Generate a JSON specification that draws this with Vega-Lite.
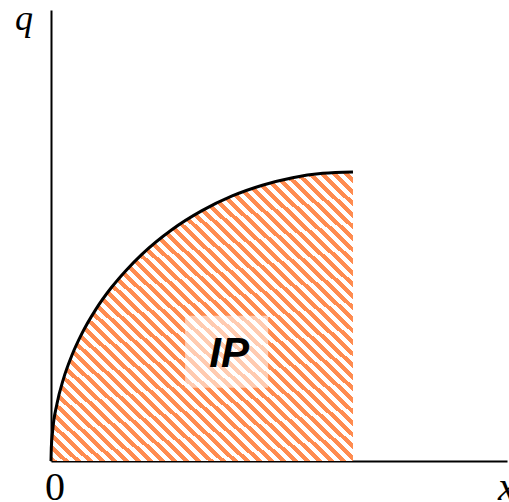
{
  "$schema": "https://vega.github.io/schema/vega-lite/v6.json",
  "width": 456,
  "height": 451,
  "autosize": "none",
  "padding": {"left": 51, "top": 10, "right": 2, "bottom": 41},
  "background": "white",
  "view": {"stroke": null},
  "config": {"axis": {"grid": false, "ticks": false, "labels": false, "title": null, "domainColor": "black", "domainWidth": 2}},
  "datasets": {
    "curve": [
      {"x": 0, "q": 0}, {"x": 0.001, "q": 0.0447}, {"x": 0.005, "q": 0.0999}, {"x": 0.02, "q": 0.199},
      {"x": 0.04, "q": 0.28}, {"x": 0.07, "q": 0.3676}, {"x": 0.1, "q": 0.436}, {"x": 0.15, "q": 0.527},
      {"x": 0.2, "q": 0.6}, {"x": 0.25, "q": 0.661}, {"x": 0.3, "q": 0.714}, {"x": 0.4, "q": 0.8},
      {"x": 0.5, "q": 0.866}, {"x": 0.6, "q": 0.917}, {"x": 0.7, "q": 0.954}, {"x": 0.8, "q": 0.98},
      {"x": 0.9, "q": 0.995}, {"x": 1.0, "q": 1.0}
    ],
    "box": [{"x1": 0.444, "x2": 0.719, "y1": 0.253, "y2": 0.502}],
    "labels": [
      {"x": 0.59, "q": 0.325, "text": "IP", "kind": "ip"},
      {"x": -0.0894, "q": 1.491, "text": "q", "kind": "axis"},
      {"x": 0.0132, "q": -0.135, "text": "0", "kind": "zero"},
      {"x": 1.48, "q": -0.135, "text": "x", "kind": "axisx"}
    ]
  },
  "layer": [
    {
      "data": {"name": "curve"},
      "mark": {
        "type": "area",
        "interpolate": "monotone",
        "fill": {
          "gradient": "linear", "x1": 0, "y1": 1, "x2": 1, "y2": 0,
          "stops": [
            {"offset": 0, "color": "#ff8c50"},
            {"offset": 0.01, "color": "#ff8c50"}, {"offset": 0.01, "color": "#ffffff"},
            {"offset": 0.02, "color": "#ffffff"}, {"offset": 0.02, "color": "#ff8c50"},
            {"offset": 0.03, "color": "#ff8c50"}, {"offset": 0.03, "color": "#ffffff"},
            {"offset": 0.04, "color": "#ffffff"}, {"offset": 0.04, "color": "#ff8c50"},
            {"offset": 0.05, "color": "#ff8c50"}, {"offset": 0.05, "color": "#ffffff"},
            {"offset": 0.06, "color": "#ffffff"}, {"offset": 0.06, "color": "#ff8c50"},
            {"offset": 0.07, "color": "#ff8c50"}, {"offset": 0.07, "color": "#ffffff"},
            {"offset": 0.08, "color": "#ffffff"}, {"offset": 0.08, "color": "#ff8c50"},
            {"offset": 0.09, "color": "#ff8c50"}, {"offset": 0.09, "color": "#ffffff"},
            {"offset": 0.10, "color": "#ffffff"}, {"offset": 0.10, "color": "#ff8c50"},
            {"offset": 0.11, "color": "#ff8c50"}, {"offset": 0.11, "color": "#ffffff"},
            {"offset": 0.12, "color": "#ffffff"}, {"offset": 0.12, "color": "#ff8c50"},
            {"offset": 0.13, "color": "#ff8c50"}, {"offset": 0.13, "color": "#ffffff"},
            {"offset": 0.14, "color": "#ffffff"}, {"offset": 0.14, "color": "#ff8c50"},
            {"offset": 0.15, "color": "#ff8c50"}, {"offset": 0.15, "color": "#ffffff"},
            {"offset": 0.16, "color": "#ffffff"}, {"offset": 0.16, "color": "#ff8c50"},
            {"offset": 0.17, "color": "#ff8c50"}, {"offset": 0.17, "color": "#ffffff"},
            {"offset": 0.18, "color": "#ffffff"}, {"offset": 0.18, "color": "#ff8c50"},
            {"offset": 0.19, "color": "#ff8c50"}, {"offset": 0.19, "color": "#ffffff"},
            {"offset": 0.20, "color": "#ffffff"}, {"offset": 0.20, "color": "#ff8c50"},
            {"offset": 0.21, "color": "#ff8c50"}, {"offset": 0.21, "color": "#ffffff"},
            {"offset": 0.22, "color": "#ffffff"}, {"offset": 0.22, "color": "#ff8c50"},
            {"offset": 0.23, "color": "#ff8c50"}, {"offset": 0.23, "color": "#ffffff"},
            {"offset": 0.24, "color": "#ffffff"}, {"offset": 0.24, "color": "#ff8c50"},
            {"offset": 0.25, "color": "#ff8c50"}, {"offset": 0.25, "color": "#ffffff"},
            {"offset": 0.26, "color": "#ffffff"}, {"offset": 0.26, "color": "#ff8c50"},
            {"offset": 0.27, "color": "#ff8c50"}, {"offset": 0.27, "color": "#ffffff"},
            {"offset": 0.28, "color": "#ffffff"}, {"offset": 0.28, "color": "#ff8c50"},
            {"offset": 0.29, "color": "#ff8c50"}, {"offset": 0.29, "color": "#ffffff"},
            {"offset": 0.30, "color": "#ffffff"}, {"offset": 0.30, "color": "#ff8c50"},
            {"offset": 0.31, "color": "#ff8c50"}, {"offset": 0.31, "color": "#ffffff"},
            {"offset": 0.32, "color": "#ffffff"}, {"offset": 0.32, "color": "#ff8c50"},
            {"offset": 0.33, "color": "#ff8c50"}, {"offset": 0.33, "color": "#ffffff"},
            {"offset": 0.34, "color": "#ffffff"}, {"offset": 0.34, "color": "#ff8c50"},
            {"offset": 0.35, "color": "#ff8c50"}, {"offset": 0.35, "color": "#ffffff"},
            {"offset": 0.36, "color": "#ffffff"}, {"offset": 0.36, "color": "#ff8c50"},
            {"offset": 0.37, "color": "#ff8c50"}, {"offset": 0.37, "color": "#ffffff"},
            {"offset": 0.38, "color": "#ffffff"}, {"offset": 0.38, "color": "#ff8c50"},
            {"offset": 0.39, "color": "#ff8c50"}, {"offset": 0.39, "color": "#ffffff"},
            {"offset": 0.40, "color": "#ffffff"}, {"offset": 0.40, "color": "#ff8c50"},
            {"offset": 0.41, "color": "#ff8c50"}, {"offset": 0.41, "color": "#ffffff"},
            {"offset": 0.42, "color": "#ffffff"}, {"offset": 0.42, "color": "#ff8c50"},
            {"offset": 0.43, "color": "#ff8c50"}, {"offset": 0.43, "color": "#ffffff"},
            {"offset": 0.44, "color": "#ffffff"}, {"offset": 0.44, "color": "#ff8c50"},
            {"offset": 0.45, "color": "#ff8c50"}, {"offset": 0.45, "color": "#ffffff"},
            {"offset": 0.46, "color": "#ffffff"}, {"offset": 0.46, "color": "#ff8c50"},
            {"offset": 0.47, "color": "#ff8c50"}, {"offset": 0.47, "color": "#ffffff"},
            {"offset": 0.48, "color": "#ffffff"}, {"offset": 0.48, "color": "#ff8c50"},
            {"offset": 0.49, "color": "#ff8c50"}, {"offset": 0.49, "color": "#ffffff"},
            {"offset": 0.50, "color": "#ffffff"}, {"offset": 0.50, "color": "#ff8c50"},
            {"offset": 0.51, "color": "#ff8c50"}, {"offset": 0.51, "color": "#ffffff"},
            {"offset": 0.52, "color": "#ffffff"}, {"offset": 0.52, "color": "#ff8c50"},
            {"offset": 0.53, "color": "#ff8c50"}, {"offset": 0.53, "color": "#ffffff"},
            {"offset": 0.54, "color": "#ffffff"}, {"offset": 0.54, "color": "#ff8c50"},
            {"offset": 0.55, "color": "#ff8c50"}, {"offset": 0.55, "color": "#ffffff"},
            {"offset": 0.56, "color": "#ffffff"}, {"offset": 0.56, "color": "#ff8c50"},
            {"offset": 0.57, "color": "#ff8c50"}, {"offset": 0.57, "color": "#ffffff"},
            {"offset": 0.58, "color": "#ffffff"}, {"offset": 0.58, "color": "#ff8c50"},
            {"offset": 0.59, "color": "#ff8c50"}, {"offset": 0.59, "color": "#ffffff"},
            {"offset": 0.60, "color": "#ffffff"}, {"offset": 0.60, "color": "#ff8c50"},
            {"offset": 0.61, "color": "#ff8c50"}, {"offset": 0.61, "color": "#ffffff"},
            {"offset": 0.62, "color": "#ffffff"}, {"offset": 0.62, "color": "#ff8c50"},
            {"offset": 0.63, "color": "#ff8c50"}, {"offset": 0.63, "color": "#ffffff"},
            {"offset": 0.64, "color": "#ffffff"}, {"offset": 0.64, "color": "#ff8c50"},
            {"offset": 0.65, "color": "#ff8c50"}, {"offset": 0.65, "color": "#ffffff"},
            {"offset": 0.66, "color": "#ffffff"}, {"offset": 0.66, "color": "#ff8c50"},
            {"offset": 0.67, "color": "#ff8c50"}, {"offset": 0.67, "color": "#ffffff"},
            {"offset": 0.68, "color": "#ffffff"}, {"offset": 0.68, "color": "#ff8c50"},
            {"offset": 0.69, "color": "#ff8c50"}, {"offset": 0.69, "color": "#ffffff"},
            {"offset": 0.70, "color": "#ffffff"}, {"offset": 0.70, "color": "#ff8c50"},
            {"offset": 0.71, "color": "#ff8c50"}, {"offset": 0.71, "color": "#ffffff"},
            {"offset": 0.72, "color": "#ffffff"}, {"offset": 0.72, "color": "#ff8c50"},
            {"offset": 0.73, "color": "#ff8c50"}, {"offset": 0.73, "color": "#ffffff"},
            {"offset": 0.74, "color": "#ffffff"}, {"offset": 0.74, "color": "#ff8c50"},
            {"offset": 0.75, "color": "#ff8c50"}, {"offset": 0.75, "color": "#ffffff"},
            {"offset": 0.76, "color": "#ffffff"}, {"offset": 0.76, "color": "#ff8c50"},
            {"offset": 0.77, "color": "#ff8c50"}, {"offset": 0.77, "color": "#ffffff"},
            {"offset": 0.78, "color": "#ffffff"}, {"offset": 0.78, "color": "#ff8c50"},
            {"offset": 0.79, "color": "#ff8c50"}, {"offset": 0.79, "color": "#ffffff"},
            {"offset": 0.80, "color": "#ffffff"}, {"offset": 0.80, "color": "#ff8c50"},
            {"offset": 0.81, "color": "#ff8c50"}, {"offset": 0.81, "color": "#ffffff"},
            {"offset": 0.82, "color": "#ffffff"}, {"offset": 0.82, "color": "#ff8c50"},
            {"offset": 0.83, "color": "#ff8c50"}, {"offset": 0.83, "color": "#ffffff"},
            {"offset": 0.84, "color": "#ffffff"}, {"offset": 0.84, "color": "#ff8c50"},
            {"offset": 0.85, "color": "#ff8c50"}, {"offset": 0.85, "color": "#ffffff"},
            {"offset": 0.86, "color": "#ffffff"}, {"offset": 0.86, "color": "#ff8c50"},
            {"offset": 0.87, "color": "#ff8c50"}, {"offset": 0.87, "color": "#ffffff"},
            {"offset": 0.88, "color": "#ffffff"}, {"offset": 0.88, "color": "#ff8c50"},
            {"offset": 0.89, "color": "#ff8c50"}, {"offset": 0.89, "color": "#ffffff"},
            {"offset": 0.90, "color": "#ffffff"}, {"offset": 0.90, "color": "#ff8c50"},
            {"offset": 0.91, "color": "#ff8c50"}, {"offset": 0.91, "color": "#ffffff"},
            {"offset": 0.92, "color": "#ffffff"}, {"offset": 0.92, "color": "#ff8c50"},
            {"offset": 0.93, "color": "#ff8c50"}, {"offset": 0.93, "color": "#ffffff"},
            {"offset": 0.94, "color": "#ffffff"}, {"offset": 0.94, "color": "#ff8c50"},
            {"offset": 0.95, "color": "#ff8c50"}, {"offset": 0.95, "color": "#ffffff"},
            {"offset": 0.96, "color": "#ffffff"}, {"offset": 0.96, "color": "#ff8c50"},
            {"offset": 0.97, "color": "#ff8c50"}, {"offset": 0.97, "color": "#ffffff"},
            {"offset": 0.98, "color": "#ffffff"}, {"offset": 0.98, "color": "#ff8c50"},
            {"offset": 0.99, "color": "#ff8c50"}, {"offset": 0.99, "color": "#ffffff"},
            {"offset": 1, "color": "#ffffff"}
          ]
        }
      },
      "encoding": {
        "x": {"field": "x", "type": "quantitative", "scale": {"domain": [0, 1.51], "nice": false, "zero": false}, "axis": {"orient": "bottom"}},
        "y": {"field": "q", "type": "quantitative", "scale": {"domain": [0, 1.56], "nice": false, "zero": false}, "axis": {"orient": "left"}}
      }
    },
    {
      "data": {"name": "curve"},
      "mark": {"type": "line", "interpolate": "monotone", "color": "black", "strokeWidth": 3},
      "encoding": {
        "x": {"field": "x", "type": "quantitative"},
        "y": {"field": "q", "type": "quantitative"}
      }
    },
    {
      "data": {"name": "box"},
      "mark": {"type": "rect", "fill": "white", "opacity": 0.55},
      "encoding": {
        "x": {"field": "x1", "type": "quantitative"},
        "x2": {"field": "x2"},
        "y": {"field": "y1", "type": "quantitative"},
        "y2": {"field": "y2"}
      }
    },
    {
      "data": {"name": "labels"},
      "transform": [{"filter": "datum.kind === 'ip'"}],
      "mark": {"type": "text", "font": "Liberation Sans", "fontSize": 42, "fontWeight": "bold", "fontStyle": "italic", "align": "center", "baseline": "alphabetic", "color": "black"},
      "encoding": {
        "x": {"field": "x", "type": "quantitative"},
        "y": {"field": "q", "type": "quantitative"},
        "text": {"field": "text"}
      }
    },
    {
      "data": {"name": "labels"},
      "transform": [{"filter": "datum.kind === 'axis'"}],
      "mark": {"type": "text", "font": "Liberation Serif", "fontSize": 36, "fontStyle": "italic", "align": "center", "baseline": "alphabetic", "color": "black"},
      "encoding": {
        "x": {"field": "x", "type": "quantitative"},
        "y": {"field": "q", "type": "quantitative"},
        "text": {"field": "text"}
      }
    },
    {
      "data": {"name": "labels"},
      "transform": [{"filter": "datum.kind === 'zero'"}],
      "mark": {"type": "text", "font": "Liberation Serif", "fontSize": 40, "align": "center", "baseline": "alphabetic", "color": "black"},
      "encoding": {
        "x": {"field": "x", "type": "quantitative"},
        "y": {"field": "q", "type": "quantitative"},
        "text": {"field": "text"}
      }
    },
    {
      "data": {"name": "labels"},
      "transform": [{"filter": "datum.kind === 'axisx'"}],
      "mark": {"type": "text", "font": "Liberation Serif", "fontSize": 40, "fontStyle": "italic", "align": "left", "baseline": "alphabetic", "color": "black"},
      "encoding": {
        "x": {"field": "x", "type": "quantitative"},
        "y": {"field": "q", "type": "quantitative"},
        "text": {"field": "text"}
      }
    }
  ]
}
